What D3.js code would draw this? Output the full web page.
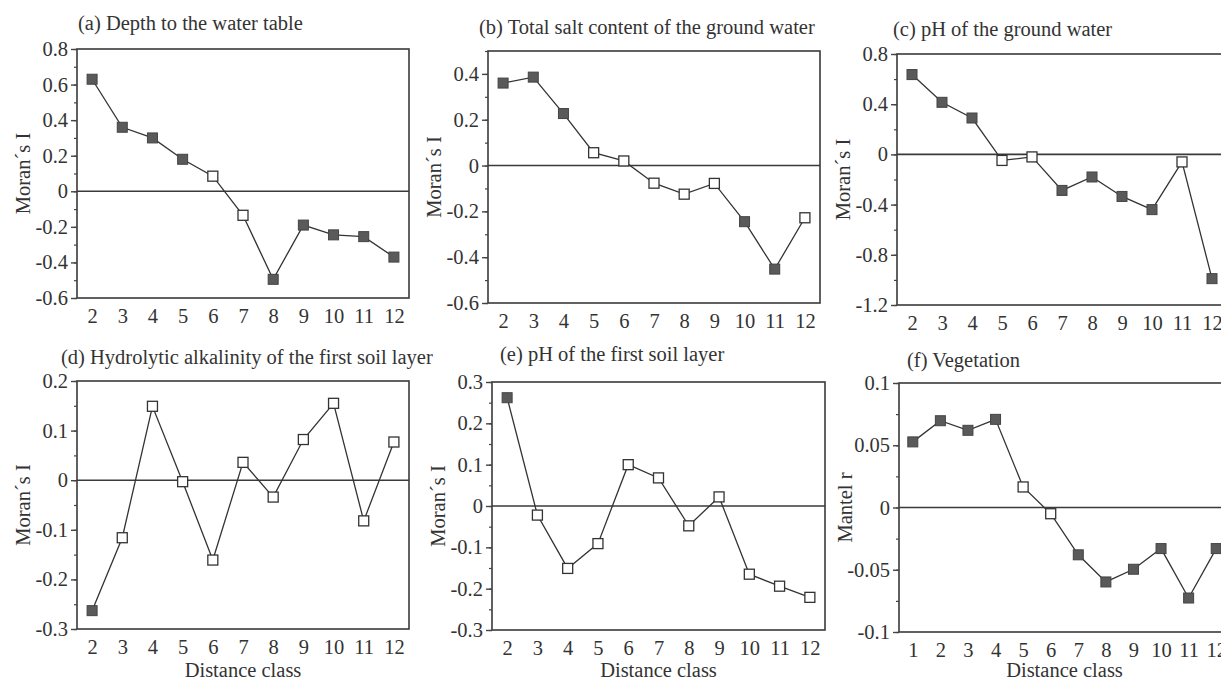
<!DOCTYPE html>
<html>
<head>
<meta charset="utf-8">
<script src="https://cdn.jsdelivr.net/npm/d3@7"></script>
<style>
  html, body { margin: 0; padding: 0; background: #fff; }
  svg { display: block; }
  text { font-family: "Liberation Serif", "Times New Roman", serif; fill: #333; }
</style>
</head>
<body>
<svg id="chart" width="1221" height="684"></svg>
<script>
// ---------- DATA ----------
const classesMoran  = [2, 3, 4, 5, 6, 7, 8, 9, 10, 11, 12];
const classesMantel = [1, 2, 3, 4, 5, 6, 7, 8, 9, 10, 11, 12];

const titles = [
  "(a) Depth to the water table",
  "(b) Total salt content of the ground water",
  "(c) pH of the ground water",
  "(d) Hydrolytic alkalinity of the first soil layer",
  "(e) pH of the first soil layer",
  "(f) Vegetation"
];
const yLabels = ["Moran\u00b4s I", "Moran\u00b4s I", "Moran\u00b4s I", "Moran\u00b4s I", "Moran\u00b4s I", "Mantel r"];
const xLabels = ["", "", "", "Distance class", "Distance class", "Distance class"];

// values (Moran's I / Mantel r) per distance class
const depthWater   = [0.63, 0.36, 0.30, 0.18, 0.085, -0.135, -0.495, -0.19, -0.245, -0.255, -0.37];
const saltWater    = [0.36, 0.386, 0.227, 0.056, 0.02, -0.077, -0.125, -0.078, -0.245, -0.452, -0.228];
const phWater      = [0.636, 0.415, 0.29, -0.048, -0.02, -0.287, -0.18, -0.335, -0.44, -0.06, -0.99];
const alkSoil      = [-0.263, -0.116, 0.149, -0.003, -0.161, 0.036, -0.034, 0.082, 0.155, -0.082, 0.077];
const phSoil       = [0.262, -0.022, -0.151, -0.091, 0.1, 0.068, -0.048, 0.022, -0.165, -0.194, -0.221];
const vegetation   = [0.0527, 0.0697, 0.062, 0.0708, 0.0165, -0.005, -0.038, -0.0598, -0.0496, -0.033, -0.0727, -0.033];

// significance (1 = filled square, 0 = open square)
const depthWaterSig = [1, 1, 1, 1, 0, 0, 1, 1, 1, 1, 1];
const saltWaterSig  = [1, 1, 1, 0, 0, 0, 0, 0, 1, 1, 0];
const phWaterSig    = [1, 1, 1, 0, 0, 1, 1, 1, 1, 0, 1];
const alkSoilSig    = [1, 0, 0, 0, 0, 0, 0, 0, 0, 0, 0];
const phSoilSig     = [1, 0, 0, 0, 0, 0, 0, 0, 0, 0, 0];
const vegetationSig = [1, 1, 1, 1, 0, 0, 1, 1, 1, 1, 1, 1];

// y tick labels
const yTicksA = [-0.6, -0.4, -0.2, 0, 0.2, 0.4, 0.6, 0.8];
const yTicksB = [-0.6, -0.4, -0.2, 0, 0.2, 0.4];
const yTicksC = [-1.2, -0.8, -0.4, 0, 0.4, 0.8];
const yTicksD = [-0.3, -0.2, -0.1, 0, 0.1, 0.2];
const yTicksE = [-0.3, -0.2, -0.1, 0, 0.1, 0.2, 0.3];
const yTicksF = [-0.1, -0.05, 0, 0.05, 0.1];

const yDomains = [[-0.6, 0.8], [-0.6, 0.5], [-1.2, 0.8], [-0.3, 0.2], [-0.3, 0.3], [-0.1, 0.1]];
const minorSteps = [0.1, 0.1, 0.2, 0.05, 0.05, 0.025];

// ---------- LAYOUT ----------
const layout = [
  {l: 77,  t: 49,  r: 409,  b: 298, tx: 78,  ty: 30},
  {l: 488, t: 51,  r: 820,  b: 303, tx: 479, ty: 34},
  {l: 897, t: 54,  r: 1227, b: 305, tx: 893, ty: 36},
  {l: 77,  t: 381, r: 409,  b: 629, tx: 61,  ty: 364},
  {l: 492, t: 382, r: 825,  b: 630, tx: 500, ty: 361},
  {l: 899, t: 383, r: 1230, b: 632, tx: 907, ty: 367}
];

const panels = [
  {x: classesMoran,  y: depthWater, s: depthWaterSig, yt: yTicksA},
  {x: classesMoran,  y: saltWater,  s: saltWaterSig,  yt: yTicksB},
  {x: classesMoran,  y: phWater,    s: phWaterSig,    yt: yTicksC},
  {x: classesMoran,  y: alkSoil,    s: alkSoilSig,    yt: yTicksD},
  {x: classesMoran,  y: phSoil,     s: phSoilSig,     yt: yTicksE},
  {x: classesMantel, y: vegetation, s: vegetationSig, yt: yTicksF}
];

const svg = d3.select("#chart");
const FONT = 20.5;
const fmt = d => d === 0 ? "0" : String(+d.toFixed(3)).replace("\u2212", "-");

panels.forEach((p, i) => {
  const L = layout[i];
  const xs = p.x;
  const x = d3.scaleLinear().domain([xs[0] - 0.5, xs[xs.length - 1] + 0.5]).range([L.l, L.r]);
  const y = d3.scaleLinear().domain(yDomains[i]).range([L.b, L.t]);
  const g = svg.append("g");

  // title
  g.append("text").attr("x", L.tx).attr("y", L.ty)
    .style("font-size", FONT + "px").text(titles[i]);

  // frame
  g.append("rect").attr("x", L.l).attr("y", L.t)
    .attr("width", L.r - L.l).attr("height", L.b - L.t)
    .attr("fill", "none").attr("stroke", "#3a3a3a").attr("stroke-width", 1.6);

  // zero line
  g.append("line").attr("x1", L.l).attr("x2", L.r)
    .attr("y1", y(0)).attr("y2", y(0))
    .attr("stroke", "#3a3a3a").attr("stroke-width", 1.6);

  // minor y ticks
  const [d0, d1] = yDomains[i];
  const minor = d3.range(Math.round((d1 - d0) / minorSteps[i]) + 1).map(k => d0 + k * minorSteps[i]);
  g.append("g").attr("transform", `translate(${L.l},0)`)
    .call(d3.axisLeft(y).tickValues(minor).tickSize(3).tickFormat(""))
    .call(a => a.select(".domain").remove())
    .call(a => a.selectAll("line").attr("stroke", "#444").attr("stroke-width", 1.2));

  // major y axis
  g.append("g").attr("transform", `translate(${L.l},0)`)
    .call(d3.axisLeft(y).tickValues(p.yt).tickSize(6).tickPadding(3).tickFormat(fmt))
    .call(a => a.select(".domain").remove())
    .call(a => a.selectAll("line").attr("stroke", "#444").attr("stroke-width", 1.4))
    .call(a => a.selectAll("text").attr("fill", "#333")
      .style("font-size", FONT + "px").style("font-family", '"Liberation Serif", serif'));

  // x axis
  g.append("g").attr("transform", `translate(0,${L.b})`)
    .call(d3.axisBottom(x).tickValues(xs).tickSize(0).tickPadding(10).tickFormat(d3.format("d")))
    .call(a => a.select(".domain").remove())
    .call(a => a.selectAll("text").attr("fill", "#333")
      .style("font-size", FONT + "px").style("font-family", '"Liberation Serif", serif'));

  // y label
  const cy = (L.t + L.b) / 2;
  g.append("text")
    .attr("transform", `translate(${L.l - 47},${cy}) rotate(-90)`)
    .attr("text-anchor", "middle")
    .style("font-size", FONT + "px").text(yLabels[i]);

  // x label
  if (xLabels[i]) {
    g.append("text").attr("x", (L.l + L.r) / 2).attr("y", 677)
      .attr("text-anchor", "middle")
      .style("font-size", FONT + "px").text(xLabels[i]);
  }

  // line
  const pts = xs.map((d, k) => ({x: d, y: p.y[k], s: p.s[k]}));
  g.append("path").datum(pts)
    .attr("fill", "none").attr("stroke", "#333").attr("stroke-width", 1.3)
    .attr("d", d3.line().x(d => x(d.x)).y(d => y(d.y)));

  // markers
  const sz = 10;
  g.selectAll("rect.m").data(pts).join("rect")
    .attr("class", "m")
    .attr("x", d => x(d.x) - sz / 2).attr("y", d => y(d.y) - sz / 2)
    .attr("width", sz).attr("height", sz)
    .attr("fill", d => d.s ? "#5a5a5a" : "#fff")
    .attr("stroke", d => d.s ? "#444" : "#333")
    .attr("stroke-width", d => d.s ? 1 : 1.3);
});
</script>
</body>
</html>
